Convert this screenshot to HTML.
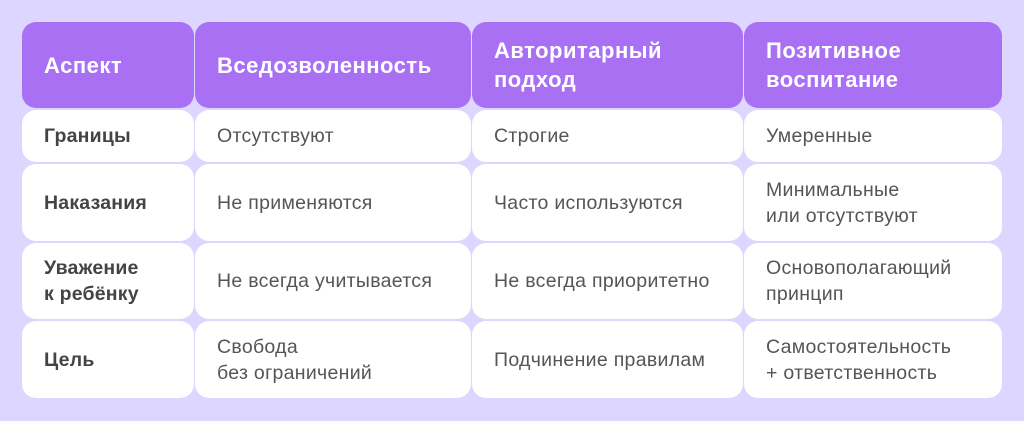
<!DOCTYPE html>
<html><head><meta charset="utf-8"><style>
body{margin:0;width:1024px;height:421px;background:#ddd6fe;font-family:"Liberation Sans","DejaVu Sans",sans-serif;position:relative;overflow:hidden}
.c{position:absolute;background:#fff;border-radius:14px;display:flex;align-items:center;box-sizing:border-box;padding-left:22px;font-size:19.5px;letter-spacing:0.3px;color:#555;line-height:26px}
.h{background:#a970f4;color:#fff;font-weight:bold;font-size:22px;line-height:29px;letter-spacing:0.5px}
.b{font-weight:bold;color:#444;letter-spacing:0.2px}
</style></head><body>
<div class="c h" style="left:22px;top:22px;width:172px;height:86px">Аспект</div>
<div class="c h" style="left:195px;top:22px;width:276px;height:86px">Вседозволенность</div>
<div class="c h" style="left:472px;top:22px;width:271px;height:86px">Авторитарный<br>подход</div>
<div class="c h" style="left:744px;top:22px;width:258px;height:86px">Позитивное<br>воспитание</div>

<div class="c b" style="left:22px;top:110px;width:172px;height:52px">Границы</div>
<div class="c" style="left:195px;top:110px;width:276px;height:52px">Отсутствуют</div>
<div class="c" style="left:472px;top:110px;width:271px;height:52px">Строгие</div>
<div class="c" style="left:744px;top:110px;width:258px;height:52px">Умеренные</div>

<div class="c b" style="left:22px;top:164px;width:172px;height:77px">Наказания</div>
<div class="c" style="left:195px;top:164px;width:276px;height:77px">Не применяются</div>
<div class="c" style="left:472px;top:164px;width:271px;height:77px">Часто используются</div>
<div class="c" style="left:744px;top:164px;width:258px;height:77px">Минимальные<br>или отсутствуют</div>

<div class="c b" style="left:22px;top:243px;width:172px;height:76px">Уважение<br>к ребёнку</div>
<div class="c" style="left:195px;top:243px;width:276px;height:76px">Не всегда учитывается</div>
<div class="c" style="left:472px;top:243px;width:271px;height:76px">Не всегда приоритетно</div>
<div class="c" style="left:744px;top:243px;width:258px;height:76px">Основополагающий<br>принцип</div>

<div class="c b" style="left:22px;top:321px;width:172px;height:77px">Цель</div>
<div class="c" style="left:195px;top:321px;width:276px;height:77px">Свобода<br>без ограничений</div>
<div class="c" style="left:472px;top:321px;width:271px;height:77px">Подчинение правилам</div>
<div class="c" style="left:744px;top:321px;width:258px;height:77px">Самостоятельность<br>+ ответственность</div>
</body></html>
